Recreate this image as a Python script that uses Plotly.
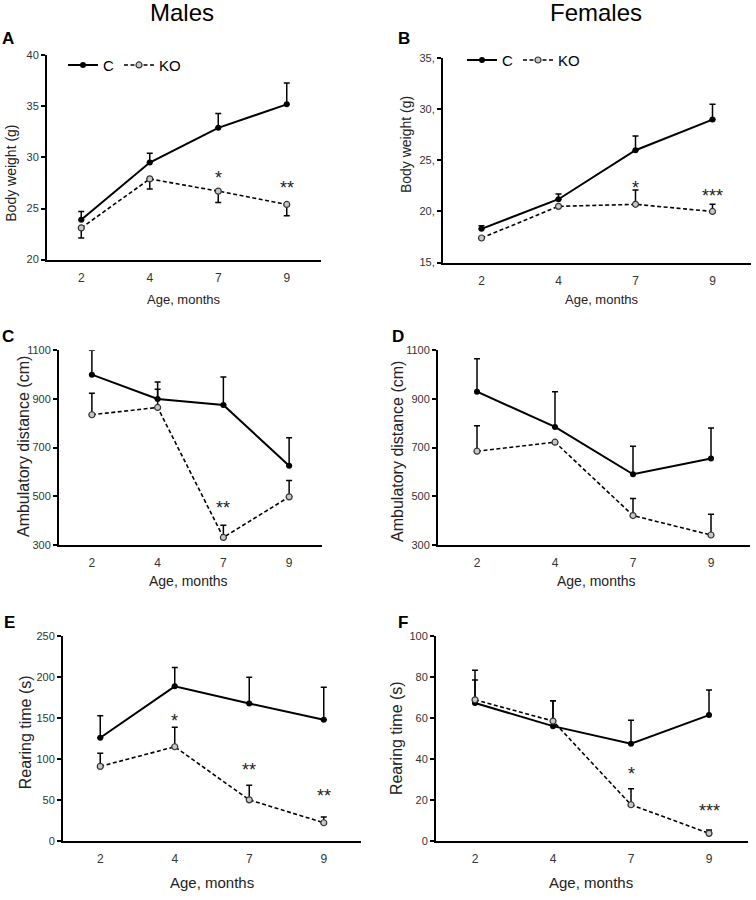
import plotly.graph_objects as go

W, H = 756, 900

ages = ["2", "4", "7", "9"]

# Panel A - Males body weight (g)
a_c_mean = [23.9, 29.5, 32.9, 35.2]
a_c_err = [0.8, 0.9, 1.4, 2.1]
a_ko_mean = [23.1, 27.9, 26.7, 25.4]
a_ko_err = [1.0, 1.0, 1.1, 1.1]
a_sig = [("7", 28.3, "*"), ("9", 27.3, "**")]

# Panel B - Females body weight (g)
b_c_mean = [18.3, 21.2, 26.0, 29.0]
b_c_err = [0.3, 0.5, 1.4, 1.5]
b_ko_mean = [17.4, 20.5, 20.7, 20.0]
b_ko_err = [0.0, 0.0, 1.4, 0.7]
b_sig = [("7", 22.6, "*"), ("9", 21.8, "***")]

# Panel C - Males ambulatory distance (cm)
c_c_mean = [1000, 900, 875, 625]
c_c_err = [100, 70, 115, 115]
c_ko_mean = [835, 865, 330, 497]
c_ko_err = [88, 75, 50, 67]
c_sig = [("7", 462, "**")]

# Panel D - Females ambulatory distance (cm)
d_c_mean = [930, 785, 590, 655]
d_c_err = [135, 145, 115, 125]
d_ko_mean = [685, 722, 420, 340]
d_ko_err = [105, 0, 70, 85]
d_sig = []

# Panel E - Males rearing time (s)
e_c_mean = [126, 189, 168, 148]
e_c_err = [27, 23, 32, 40]
e_ko_mean = [91, 115, 50, 22]
e_ko_err = [16, 24, 18, 7]
e_sig = [("4", 150, "*"), ("7", 90, "**"), ("9", 59, "**")]

# Panel F - Females rearing time (s)
f_c_mean = [67.4, 56.1, 47.5, 61.5]
f_c_err = [11.3, 12.4, 11.5, 12.3]
f_ko_mean = [69.0, 58.6, 17.6, 3.6]
f_ko_err = [14.5, 9.9, 7.9, 1.6]
f_sig = [("7", 34.2, "*"), ("9", 16, "***")]

y_ticks_a = [20, 25, 30, 35, 40]
y_ticks_b = [15, 20, 25, 30, 35]
y_ticks_cd = [300, 500, 700, 900, 1100]
y_ticks_e = [0, 50, 100, 150, 200, 250]
y_ticks_f = [0, 20, 40, 60, 80, 100]

NARROW = "Liberation Sans Narrow, Arial Narrow, Liberation Sans, Arial"
SANS = "Liberation Sans, Arial, sans-serif"

fig = go.Figure()

def px_x(p):
    return p / W

def px_y(p):
    return 1 - p / H

panels = [
    dict(k="", box=(47, 321, 50, 257), c=(a_c_mean, a_c_err), ko=(a_ko_mean, a_ko_err), ko_down=True,
         ticks=y_ticks_a, suf="", sig=a_sig, legend="legend", rng=(20, 40)),
    dict(k="2", box=(443, 751, 53, 260), c=(b_c_mean, b_c_err), ko=(b_ko_mean, b_ko_err), ko_down=False,
         ticks=y_ticks_b, suf=",", sig=b_sig, legend="legend2", rng=(15, 35)),
    dict(k="3", box=(59, 322, 349, 546), c=(c_c_mean, c_c_err), ko=(c_ko_mean, c_ko_err), ko_down=False,
         ticks=y_ticks_cd, suf="", sig=c_sig, legend=None, rng=(300, 1100)),
    dict(k="4", box=(438, 750, 349, 546), c=(d_c_mean, d_c_err), ko=(d_ko_mean, d_ko_err), ko_down=False,
         ticks=y_ticks_cd, suf="", sig=d_sig, legend=None, rng=(300, 1100)),
    dict(k="5", box=(63, 361, 639, 846), c=(e_c_mean, e_c_err), ko=(e_ko_mean, e_ko_err), ko_down=False,
         ticks=y_ticks_e, suf="", sig=e_sig, legend=None, rng=(0, 250)),
    dict(k="6", box=(436, 748, 639, 846), c=(f_c_mean, f_c_err), ko=(f_ko_mean, f_ko_err), ko_down=False,
         ticks=y_ticks_f, suf="", sig=f_sig, legend=None, rng=(0, 100)),
]

layout = {}
annotations = []

for p in panels:
    k = p["k"]
    x0, x1, y0, y1 = p["box"]
    xa, ya = "x" + k, "y" + k
    ko_mean, ko_err = p["ko"]
    c_mean, c_err = p["c"]
    zeros = [0] * len(ages)
    if p["ko_down"]:
        ko_ey = dict(type="data", symmetric=False, array=zeros, arrayminus=ko_err,
                     color="black", thickness=1.5, width=3)
    else:
        ko_ey = dict(type="data", symmetric=False, array=ko_err, arrayminus=zeros,
                     color="black", thickness=1.5, width=3)
    show = p["legend"] is not None
    fig.add_trace(go.Scatter(
        x=ages, y=c_mean, xaxis=xa, yaxis=ya, name="C", mode="lines+markers",
        line=dict(color="black", width=2),
        marker=dict(color="black", size=6, symbol="circle"),
        error_y=dict(type="data", symmetric=False, array=c_err, arrayminus=zeros,
                     color="black", thickness=1.5, width=3),
        showlegend=show, legend=p["legend"] if show else "legend", cliponaxis=False))
    fig.add_trace(go.Scatter(
        x=ages, y=ko_mean, xaxis=xa, yaxis=ya, name="KO", mode="lines+markers",
        line=dict(color="black", width=1.6, dash="4px,2.5px"),
        marker=dict(color="#c8c8c8", size=6, symbol="circle", line=dict(color="#333333", width=1.2)),
        error_y=ko_ey,
        showlegend=show, legend=p["legend"] if show else "legend", cliponaxis=False))

    xname = "xaxis" + k
    yname = "yaxis" + k
    layout[xname] = dict(
        domain=[px_x(x0), px_x(x1)], anchor=ya, type="category", range=[-0.5, 3.5],
        showline=True, linecolor="black", linewidth=2, ticks="", showgrid=False, zeroline=False,
        tickfont=dict(family=NARROW, size=12, color="#333333"), ticklabelstandoff=6)
    layout[yname] = dict(
        domain=[px_y(y1), px_y(y0)], anchor=xa, range=list(p["rng"]),
        tickvals=p["ticks"], ticktext=[f"{t}{p['suf']}" for t in p["ticks"]],
        showline=True, linecolor="black", linewidth=2, ticks="outside", ticklen=4,
        tickwidth=2, tickcolor="black", showgrid=False, zeroline=False,
        tickfont=dict(family=NARROW, size=11, color="#333333"))

    for (sx, sy, st) in p["sig"]:
        annotations.append(dict(x=ages.index(sx), y=sy, xref=xa, yref=ya, text=st, showarrow=False,
                                font=dict(family=SANS, size=18, color="#222222"),
                                xanchor="center", yanchor="middle", yshift=-3))

# axis titles, panel letters and column titles (pixel positions)
x_titles = [(183, 297), (601, 297), (188, 583), (596, 583), (212, 888), (591, 888)]
x_title_sizes = [13, 13, 14, 14, 15, 15]
y_titles = [("Body weight (g)", 11, 170, 14), ("Body weight (g)", 406, 141, 14),
            ("Ambulatory distance (cm)", 23, 447, 16), ("Ambulatory distance (cm)", 398, 452, 16),
            ("Rearing time (s)", 25, 736, 16), ("Rearing time (s)", 396, 742, 16)]
letters = [("A", 8, 33), ("B", 404, 33), ("C", 8, 335), ("D", 398, 335), ("E", 9, 625), ("F", 403, 625)]
col_titles = [("Males", 182, 7), ("Females", 596, 7)]

for (tx, ty), sz in zip(x_titles, x_title_sizes):
    annotations.append(dict(x=px_x(tx), y=px_y(ty), xref="paper", yref="paper", text="Age, months",
                            showarrow=False, xanchor="center", yanchor="middle",
                            font=dict(family=NARROW, size=sz, color="#222222")))
for txt, tx, ty, sz in y_titles:
    annotations.append(dict(x=px_x(tx), y=px_y(ty), xref="paper", yref="paper", text=txt,
                            showarrow=False, xanchor="center", yanchor="middle", textangle=-90,
                            font=dict(family=SANS, size=sz, color="#222222")))
for txt, tx, ty in letters:
    annotations.append(dict(x=px_x(tx), y=px_y(ty), xref="paper", yref="paper", text=f"<b>{txt}</b>",
                            showarrow=False, xanchor="center", yanchor="middle",
                            font=dict(family=SANS, size=17, color="black")))
for txt, tx, ty in col_titles:
    annotations.append(dict(x=px_x(tx), y=px_y(ty), xref="paper", yref="paper", text=txt,
                            showarrow=False, xanchor="center", yanchor="middle",
                            font=dict(family=SANS, size=24, color="black")))

legend_style = dict(orientation="h", xanchor="left", yanchor="middle", bgcolor="rgba(0,0,0,0)",
                    font=dict(family=NARROW, size=15, color="black"), itemwidth=30,
                    tracegroupgap=0, itemclick=False)

fig.update_layout(
    width=W, height=H, margin=dict(l=0, r=0, t=0, b=0),
    paper_bgcolor="white", plot_bgcolor="white",
    annotations=annotations,
    legend=dict(x=px_x(63), y=px_y(60), **legend_style),
    legend2=dict(x=px_x(462), y=px_y(55), **legend_style),
    **layout)

fig.write_html("out.html", config={"displayModeBar": False},
               post_script="document.body.style.margin='0';document.body.style.overflow='hidden';")
